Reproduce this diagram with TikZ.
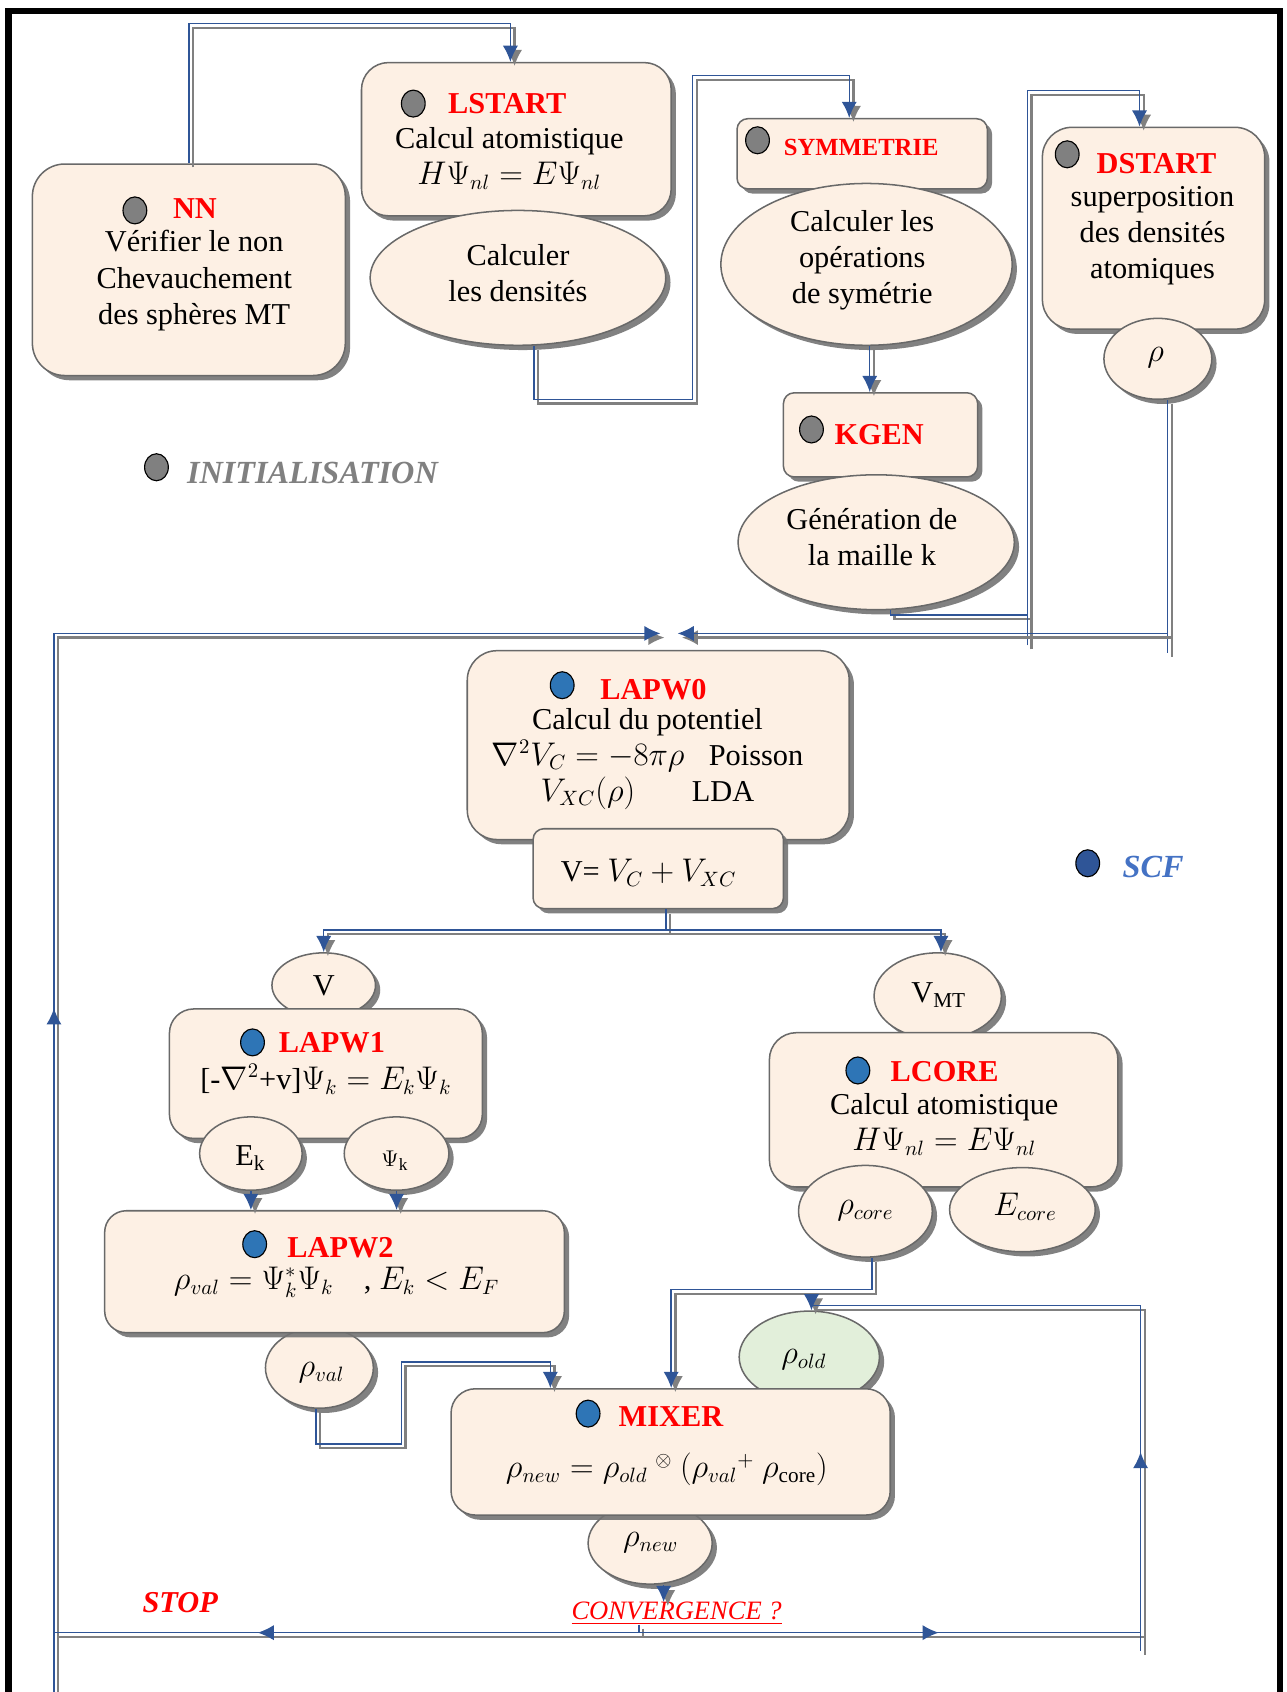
\documentclass[tikz,border=0pt]{standalone}
\usepackage{fontspec}
\setmainfont{Liberation Serif}
\usepackage{tikz}
\usetikzlibrary{arrows.meta}
\usetikzlibrary{shapes.geometric}
\usetikzlibrary{shadows}
\usetikzlibrary{fit}
\usetikzlibrary{decorations.markings}
\definecolor{boxfill}{RGB}{253,240,228}
\definecolor{boxline}{RGB}{105,105,105}
\definecolor{wireblue}{RGB}{47,85,151}
\definecolor{dotgray}{RGB}{128,128,128}
\definecolor{dotblue}{RGB}{46,117,182}
\definecolor{oldgreen}{RGB}{226,239,218}
\definecolor{scfblue}{RGB}{68,114,196}

\tikzset{
  box/.style={draw=boxline, line width=0.8pt, fill=boxfill, rounded corners=#1, inner sep=0pt,
    drop shadow={shadow xshift=2.5pt, shadow yshift=-2.5pt, fill=black!55, opacity=0.9}},
  box/.default=0.5cm,
  oval/.style 2 args={ellipse, draw=boxline, line width=0.8pt, fill=boxfill, inner sep=0pt,
    minimum width=#1, minimum height=#2,
    drop shadow={shadow xshift=2.5pt, shadow yshift=-2.5pt, fill=black!55, opacity=0.9}},
  dotg/.style={ellipse, draw=black, line width=0.6pt, fill=dotgray, inner sep=0pt,
    minimum width=0.44cm, minimum height=0.5cm},
  dotb/.style={dotg, fill=dotblue},
  title/.style={anchor=west, inner sep=0pt, text=red, font=\fontsize{16}{19}\selectfont\bfseries},
  body/.style={align=center, inner sep=0pt},
  wire/.style={draw=wireblue, line width=0.75pt,
    preaction={draw=black!50, line width=1.2pt, transform canvas={xshift=2.2pt, yshift=-2.2pt}}},
  midtip/.style={postaction={decorate, decoration={markings,
    mark=at position #1 with {\arrow[wireblue]{Latex[length=8.5pt,width=8pt]}}}}}
}

\begin{document}
\begin{tikzpicture}[x=0.02cm, y=-0.02cm, >={Latex[length=8.5pt,width=8pt]},
  every node/.style={font=\fontsize{16}{19}\selectfont}]
\useasboundingbox (0,0) rectangle (1192,1568);
% frame
\draw[line width=0.12cm] (8,1568) -- (8,10) -- (1186,10) -- (1186,1568);

% --- initialisation
\node[box=0.6cm, fit={(30,152) (320,348)}] (nn) {};
\node[dotg] (nndot) at (125,195) {};
\node[title] (nnt) at (160,193) {NN};
\node[body] (nnb) at (180,260) {Vérifier le non\\Chevauchement\\des sphères MT};

\node[box=0.5cm, fit={(335,58) (622,200)}] (lstart) {};
\node[dotg] (lsdot) at (383,96) {};
\node[title] (lst) at (415,96) {LSTART};
\node[body] (lsb) at (472,147) {Calcul atomistique\\$H\Psi_{nl} = E\Psi_{nl}$};
\node[oval={5.48cm}{2.5cm}] (dens) at (480,257.5) {};
\node[body] (densb) at (480,253) {Calculer\\les densités};

\node[box=0.2cm, fit={(683,110) (915,175)}] (symm) {};
\node[dotg] (symdot) at (702,130) {};
\node[title, font=\fontsize{13}{16}\selectfont\bfseries] (symt) at (726,137) {SYMMETRIE};
\node[oval={5.4cm}{3cm}] (symov) at (803,245) {};
\node[body] (symb) at (799,241) {Calculer les\\opérations\\de symétrie};

\node[box=0.2cm, fit={(726,364) (906,442)}] (kgen) {};
\node[dotg] (kgdot) at (752,398) {};
\node[title] (kgt) at (773,403) {KGEN};
\node[oval={5.12cm}{2.5cm}] (kgenov) at (812,502.5) {};
\node[body] (kgb) at (808,498) {Génération de\\la maille k};

\node[box=0.55cm, fit={(966,118) (1172,305)}] (dstart) {};
\node[dotg] (dsdot) at (989,143) {};
\node[title] (dst) at (1016,152) {DSTART};
\node[body] (dsb) at (1068,218) {superposition\\des densités\\atomiques};
\node[oval={2cm}{1.5cm}] (rho) at (1073,332.5) {};
\node (rhot) at (1071,331) {$\rho$};

\node[dotg] (inidot) at (145,433) {};
\node[anchor=west, inner sep=0pt, text=dotgray, font=\fontsize{17}{20}\selectfont\bfseries\itshape] (ini) at (173,438) {INITIALISATION};

% --- SCF cycle
\node[box=0.55cm, fit={(433,603) (787,778)}] (lapw0) {};
\node[dotb] (l0dot) at (521,635) {};
\node[title] (l0t) at (556,639) {LAPW0};
\node[body] (l0b) at (600,703) {Calcul du potentiel\\$\nabla^2V_C = -8\pi\rho$\hspace{0.45cm}Poisson\\$V_{XC}(\rho)$\hspace{1.05cm}LDA};
\node[box=0.2cm, fit={(494,768) (726,842)}] (vsum) {};
\node (vsumt) at (601,809) {V= $V_C + V_{XC}$};

\node[dotb, fill=wireblue] (scfdot) at (1008,800) {};
\node[anchor=west, inner sep=0pt, text=scfblue, font=\fontsize{17}{20}\selectfont\bfseries\itshape] (scf) at (1040,803) {SCF};

\node[oval={1.92cm}{1.2cm}] (v) at (300,913) {};
\node (vt) at (300,914) {V};
\node[box=0.45cm, fit={(157,935) (447,1055)}] (lapw1) {};
\node[dotb] (l1dot) at (234,966) {};
\node[title] (l1t) at (258,966) {LAPW1};
\node (l1b) at (302,1000) {[-$\nabla^2$+v]$\Psi_k = E_k\Psi_k$};
\node[oval={1.9cm}{1.36cm}] (ek) at (232.5,1069) {};
\node (ekt) at (232,1073) {E$_{\mathrm{k}}$};
\node[oval={1.94cm}{1.36cm}] (psik) at (367.5,1069) {};
\node[font=\fontsize{13}{15}\selectfont] (psikt) at (366,1076) {$\Psi_{\mathrm{k}}$};

\node[oval={2cm}{1.5cm}] (rval) at (296,1267.5) {};
\node[box=0.4cm, fit={(97,1122) (523,1235)}] (lapw2) {};
\node[dotb] (l2dot) at (236,1153) {};
\node[title] (l2t) at (266,1156) {LAPW2};
\node (l2b) at (312,1188) {$\rho_{val} = \Psi_k^*\Psi_k$\quad, $E_k < E_F$};
\node (rvalt) at (298,1272) {$\rho_{val}$};

\node[oval={2.36cm}{1.6cm}] (vmt) at (869,923) {};
\node (vmtt) at (870,922) {V$_{\mathrm{MT}}$};
\node[box=0.5cm, fit={(713,957) (1036,1100)}] (lcore) {};
\node[dotb] (lcdot) at (795,992) {};
\node[title] (lct) at (825,993) {LCORE};
\node[body] (lcb) at (875,1042) {Calcul atomistique\\$H\Psi_{nl} = E\Psi_{nl}$};
\node[oval={2.48cm}{1.7cm}] (rcore) at (802,1122.5) {};
\node (rcoret) at (802,1122) {$\rho_{core}$};
\node[oval={2.7cm}{1.56cm}] (ecore) at (947.5,1121) {};
\node (ecoret) at (950,1118) {$E_{core}$};

\node[oval={2.6cm}{1.7cm}, fill=oldgreen] (rold) at (750,1257.5) {};
\node (roldt) at (745,1260) {$\rho_{old}$};
\node[oval={2.3cm}{1.52cm}] (rnew) at (602.5,1430) {};
\node[box=0.45cm, fit={(418,1287) (825,1404)}] (mixer) {};
\node[dotb] (mxdot) at (545,1310) {};
\node[title] (mxt) at (573,1313) {MIXER};
\node (mxb) at (618,1362) {$\rho_{new} = \rho_{old}\ {}^{\otimes}\ (\rho_{val}{}^{+}\ \rho_{\mathrm{core}})$};
\node (rnewt) at (603,1430) {$\rho_{new}$};

\node[inner sep=0pt, text=red, font=\fontsize{14}{16}\selectfont\itshape] (conv) at (627,1495) {\underline{CONVERGENCE ?}};
\node[text=red, font=\fontsize{16}{19}\selectfont\bfseries\itshape] (stop) at (167,1485) {STOP};

% --- connectors
\coordinate (inl) at (612,587);
\coordinate (inr) at (628,587);
\coordinate (split1) at (617,862);
\coordinate (split2) at (592,1513);
\coordinate (kstub) at (952,598);
\coordinate (rstub) at (1082,605);

\draw[wire,->] (nn.north) -- (nn.north |- 0,22) -| (lstart.north -| 473,0);
\draw[wire,->] (dens.south -| 495,0) -- (495,370) -- (642,370) -- (642,70) -| (symm.north -| 787,0);
\draw[wire,->] (symov.south -| 806,0) -- (kgen.north -| 806,0);
\draw[wire] (kgenov.south -| 825,0) |- (952,570);
\draw[wire,->] (kstub) -- (952,84) -| (dstart.north -| 1056,0);
\draw[wire] (rho.south -| 1082,0) -- (rstub);
\draw[wire,->] (rho.south -| 1082,0) |- (inr);

\draw[wire] (vsum.south -| 617,0) -- (split1);
\draw[wire,->] (split1) -| (v.north);
\draw[wire,->] (split1) -| (vmt.north -| 872,0);

\draw[wire,->] (ek.south) -- (ek.south |- lapw2.north);
\draw[wire,->] (psik.south) -- (psik.south |- lapw2.north);
\draw[wire,->] (rval.south -| 293,0) -- (293,1338) -- (372,1338) -- (372,1262) -| (mixer.north -| 510,0);
\draw[wire,->] (rcore.south -| 808,0) -- (808,1195) -| (mixer.north -| 622,0);
\draw[wire,->] (rnew.south -| 615,0) -- (conv.north -| 615,0);

\draw[wire] (conv.south -| 592,0) -- (split2);
\draw[wire,->,midtip=0.174,midtip=0.552] (split2) -- (50,1513) -- (50,587) -- (inl);
\draw[wire] (50,1513) -- (50,1568);
\draw[wire,->,midtip=0.258,midtip=0.587] (split2) -- (1057,1513) -- (1057,1210) -| (rold.north -| 752,0);
\draw[wire] (1057,1513) -- (1057,1530);
\end{tikzpicture}
\end{document}
